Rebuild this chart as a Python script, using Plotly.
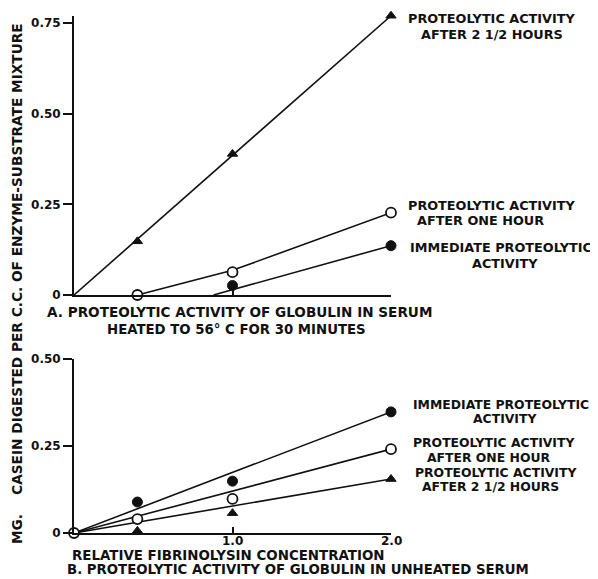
import plotly.graph_objects as go

# the page is photographed with an 8px body margin, so the figure is drawn
# 8px smaller and all layout pixel positions are shifted by that offset
OFF = 8
WIN_W, WIN_H = 598, 579
W, H = WIN_W - OFF, WIN_H - OFF

# ---------------- data ----------------
# Panel A: globulin in serum heated to 56 C for 30 minutes
a_tri_x = [0.4, 1.0, 2.0]
a_tri_y = [0.148, 0.389, 0.77]               # after 2 1/2 hours
a_open_x = [0.4, 1.0, 2.0]
a_open_y = [0.0, 0.063, 0.227]               # after one hour
a_fill_x = [1.0, 2.0]
a_fill_y = [0.026, 0.136]                    # immediate
# fitted lines (panel A)
a_tri_fit_x, a_tri_fit_y = [0.0, 2.0], [0.0, 0.77]
a_open_fit_x, a_open_fit_y = [0.4, 1.0, 2.0], [0.0, 0.068, 0.227]
a_fill_fit_x, a_fill_fit_y = [0.88, 2.0], [0.0, 0.136]

# Panel B: globulin in unheated serum
b_fill_x = [0.4, 1.0, 2.0]
b_fill_y = [0.089, 0.149, 0.348]             # immediate
b_open_x = [0.0, 0.4, 1.0, 2.0]
b_open_y = [0.0, 0.040, 0.098, 0.241]        # after one hour
b_tri_x = [0.4, 1.0, 2.0]
b_tri_y = [0.006, 0.057, 0.155]              # after 2 1/2 hours
# fitted lines (panel B)
b_fill_fit_x, b_fill_fit_y = [0.0, 2.0], [0.0, 0.348]
b_open_fit_x, b_open_fit_y = [0.0, 2.0], [0.0, 0.241]
b_tri_fit_x, b_tri_fit_y = [0.0, 2.0], [0.0, 0.155]

a_yticks = [0, 0.25, 0.5, 0.75]
a_yticklabels = ["0", "0.25", "0.50", "0.75"]
b_yticks = [0, 0.25, 0.5]
b_yticklabels = ["0", "0.25", "0.50"]
b_xticks = [1.0, 2.0]
b_xticklabels = ["1.0", "2.0"]

# ---------------- styling ----------------
FONT = "DejaVu Sans"
BLACK = "#111111"
LW = 1.6

def px(x):
    return (x - OFF) / W

def py(y):
    return 1 - (y - OFF) / H

fig = go.Figure()

def line(x, y, xa, ya):
    fig.add_trace(go.Scatter(x=x, y=y, mode="lines", xaxis=xa, yaxis=ya,
                             line=dict(color=BLACK, width=LW),
                             cliponaxis=False, showlegend=False, hoverinfo="skip"))

def marks(x, y, kind, xa, ya):
    if kind == "fill":
        m = dict(symbol="circle", size=10, color=BLACK, line=dict(color=BLACK, width=1))
    elif kind == "open":
        m = dict(symbol="circle", size=10, color="white", line=dict(color=BLACK, width=1.8))
    else:
        m = dict(symbol="triangle-up", size=9, color=BLACK, line=dict(color=BLACK, width=1))
    fig.add_trace(go.Scatter(x=x, y=y, mode="markers", xaxis=xa, yaxis=ya, marker=m,
                             cliponaxis=False, showlegend=False))

# panel A
line(a_tri_fit_x, a_tri_fit_y, "x", "y")
line(a_open_fit_x, a_open_fit_y, "x", "y")
line(a_fill_fit_x, a_fill_fit_y, "x", "y")
marks(a_tri_x, a_tri_y, "tri", "x", "y")
marks(a_fill_x, a_fill_y, "fill", "x", "y")
marks(a_open_x, a_open_y, "open", "x", "y")

# panel B
line(b_fill_fit_x, b_fill_fit_y, "x2", "y2")
line(b_open_fit_x, b_open_fit_y, "x2", "y2")
line(b_tri_fit_x, b_tri_fit_y, "x2", "y2")
marks(b_tri_x, b_tri_y, "tri", "x2", "y2")
marks(b_fill_x, b_fill_y, "fill", "x2", "y2")
marks(b_open_x, b_open_y, "open", "x2", "y2")

xdom = [px(74), px(391)]
tickfont = dict(family=FONT, size=12, color=BLACK, weight="bold")

axis_common = dict(showgrid=False, zeroline=False, showline=True, automargin=False,
                   linecolor=BLACK, linewidth=1.8, tickcolor=BLACK, tickwidth=1.5)

# panel A: 0 at 295px, 0.75 at 23px -> top of range 0.77
a_top = 0.77
a_pix_per_unit = (295 - 23) / 0.75

fig.update_layout(
    width=W, height=H,
    margin=dict(l=0, r=0, t=0, b=0, pad=0, autoexpand=False),
    paper_bgcolor="white", plot_bgcolor="white",
    font=dict(family=FONT, color=BLACK),
    xaxis=dict(domain=xdom, range=[0, 2], anchor="y", tickvals=b_xticks,
               showticklabels=False, ticks="inside", ticklen=6, **axis_common),
    yaxis=dict(domain=[py(295), py(295 - a_top * a_pix_per_unit)], range=[0, a_top],
               anchor="x", tickvals=a_yticks, ticktext=a_yticklabels,
               ticks="outside", ticklen=9, tickfont=tickfont, **axis_common),
    xaxis2=dict(domain=xdom, range=[0, 2], anchor="y2", tickvals=b_xticks,
                showticklabels=False, ticks="inside", ticklen=6, **axis_common),
    yaxis2=dict(domain=[py(533), py(359)], range=[0, 0.5], anchor="x2",
                tickvals=b_yticks, ticktext=b_yticklabels, ticks="outside", ticklen=9,
                tickfont=tickfont, **axis_common),
)

def note(text, x, y, size=12, xanchor="center", angle=0, xref="paper"):
    fig.add_annotation(text="<b>" + text + "</b>", x=(px(x) if xref == "paper" else x),
                       y=py(y), xref=xref, yref="paper",
                       xanchor=xanchor, yanchor="middle", showarrow=False,
                       textangle=angle,
                       font=dict(family=FONT, size=size, color=BLACK))

# x tick labels for panel B (placed at the tick values)
for v, t in zip(b_xticks, b_xticklabels):
    note(t, v, 541, size=12, xref="x2")

RS = 12.8
# right-hand series labels, panel A
note("PROTEOLYTIC ACTIVITY", 491, 18, RS)
note("AFTER 2 1/2 HOURS", 492, 34, RS)
note("PROTEOLYTIC ACTIVITY", 492, 205, RS)
note("AFTER ONE HOUR", 480, 220, RS)
note("IMMEDIATE PROTEOLYTIC", 501, 247, RS)
note("ACTIVITY", 505, 263, RS)
# right-hand series labels, panel B (tighter spacing, as in the original)
RB = 12.4
note("IMMEDIATE PROTEOLYTIC", 501, 404, RB)
note("ACTIVITY", 505, 418, RB)
note("PROTEOLYTIC ACTIVITY", 494, 442, RB)
note("AFTER ONE HOUR", 488, 457, RB)
note("PROTEOLYTIC ACTIVITY", 496, 472, RB)
note("AFTER 2 1/2 HOURS", 490, 486, RB)

# captions
note("A. PROTEOLYTIC ACTIVITY OF GLOBULIN IN SERUM", 239, 312, size=13.6)
note("HEATED TO 56° C FOR 30 MINUTES", 236, 329, size=13.3)
note("RELATIVE FIBRINOLYSIN CONCENTRATION", 228, 555, size=13.4)
note("B. PROTEOLYTIC ACTIVITY OF GLOBULIN IN UNHEATED SERUM", 298, 569, size=13.3)

# y-axis title
note("MG.&nbsp;&nbsp;&nbsp;&nbsp;CASEIN DIGESTED PER C.C. OF ENZYME-SUBSTRATE MIXTURE",
     17, 284, size=13.7, angle=-90)

fig.write_html("out.html")
